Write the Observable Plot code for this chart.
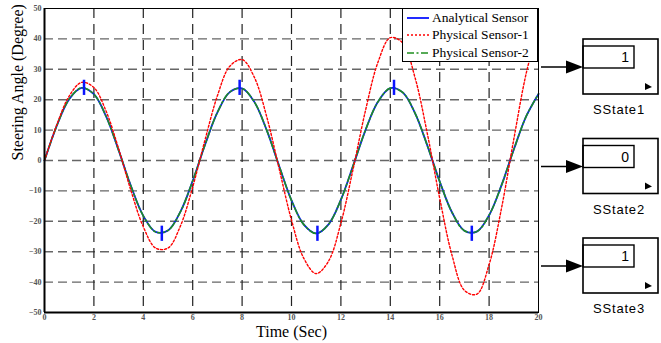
<!DOCTYPE html>
<html>
<head>
<meta charset="utf-8">
<script src="https://cdn.jsdelivr.net/npm/d3@7"></script>
<script src="https://cdn.jsdelivr.net/npm/@observablehq/plot@0.6"></script>
<style>
  html, body { margin: 0; padding: 0; background: #fff; }
  #wrap { position: relative; width: 661px; height: 343px; overflow: hidden; }
  #legend { position: absolute; left: 402px; top: 8px; width: 134px; height: 52px; background: #fff;
            border: 1px solid #000; font-family: "Liberation Serif", serif; font-size: 13.5px; }
  #legend .row { position: absolute; left: 4px; height: 17px; display: flex; align-items: center; }
  #legend .row span { margin-left: 3px; white-space: nowrap; }
  #blocks { position: absolute; left: 0; top: 0; }
</style>
</head>
<body>
<div id="wrap"></div>
<script>
// ---- data ----
const time = [0,0.5,1,1.5,2,2.5,3,3.5,4,4.5,5,5.5,6,6.5,7,7.5,8,8.5,9,9.5,10,10.5,11,11.5,12,12.5,13,13.5,14,14.5,15,15.5,16,16.5,17,17.5,18,18.5,19,19.5,20];
const analytical = [0,11.5,20.2,23.9,21.8,14.4,3.4,-8.4,-18.2,-23.5,-23.0,-16.9,-6.7,5.2,15.8,22.5,23.7,19.2,9.9,-1.8,-13.1,-21.1,-24.0,-21.0,-12.9,-1.6,10.1,19.3,23.8,22.4,15.6,4.9,-6.9,-17.1,-23.1,-23.4,-18.0,-8.2,3.6,14.5,21.9];
const physical1 = [0,11.8,21.2,25.7,24.0,16.1,3.9,-9.9,-21.8,-28.8,-28.8,-21.6,-8.7,6.8,21.3,31.0,33.2,27.3,14.3,-2.7,-19.6,-32.2,-37.2,-33.1,-20.6,-2.6,16.6,32.3,40.4,38.7,27.3,8.8,-12.4,-31.2,-42.7,-44.0,-34.2,-15.8,7.0,28.6,43.8];
const physical2 = [0,11.5,20.2,23.9,21.8,14.4,3.4,-8.4,-18.2,-23.5,-23.0,-16.9,-6.7,5.2,15.8,22.5,23.7,19.2,9.9,-1.8,-13.1,-21.1,-24.0,-21.0,-12.9,-1.6,10.1,19.3,23.8,22.4,15.6,4.9,-6.9,-17.1,-23.1,-23.4,-18.0,-8.2,3.6,14.5,21.9];
const markerTime = [1.6,4.75,7.9,11.05,14.15,17.3];
const markerValue = [24,-24,24,-24,24,-24];
const seriesNames = ["Analytical Sensor","Physical Sensor-1","Physical Sensor-2"];
const xTicks = [0,2,4,6,8,10,12,14,16,18,20];
const yTicks = [-50,-40,-30,-20,-10,0,10,20,30,40,50];
const xGrid = [2,4,6,8,10,12,14,16,18];
const yGrid = [-40,-30,-20,-10,0,10,20,30,40];
const stateNames = ["SState1","SState2","SState3"];
const stateValues = ["1","0","1"];

// ---- build tables ----
const rows = (vals) => time.map((t, i) => ({t, v: vals[i]}));
const sA = rows(analytical), s1 = rows(physical1), s2 = rows(physical2);
const markers = markerTime.map((t, i) => ({t, lo: markerValue[i] - 2.6, hi: markerValue[i] + 2.4}));

const colors = ["#0a14ff", "#ff0000", "#1f8f1f"];
const dashes = [null, "2,2", "7,2.5,2,2.5"];
const widths = [1.8, 1.4, 1.6];

const chart = Plot.plot({
  width: 661, height: 343,
  marginLeft: 44, marginRight: 123, marginTop: 8, marginBottom: 31,
  style: { fontFamily: "Liberation Serif, serif", background: "#fff" },
  x: { domain: [0, 20] },
  y: { domain: [-50, 50] },
  marks: [
    Plot.ruleY(yGrid, { stroke: "#666", strokeWidth: 1.4, strokeDasharray: "9,5" }),
    Plot.ruleX(xGrid, { stroke: "#222", strokeWidth: 1.2, strokeDasharray: "10,6" }),
    Plot.line(sA, { x: "t", y: "v", stroke: colors[0], strokeWidth: widths[0], curve: "catmull-rom" }),
    Plot.line(s2, { x: "t", y: "v", stroke: colors[2], strokeWidth: widths[2], strokeDasharray: dashes[2], curve: "catmull-rom" }),
    Plot.line(s1, { x: "t", y: "v", stroke: colors[1], strokeWidth: widths[1], strokeDasharray: dashes[1], curve: "catmull-rom" }),
    Plot.ruleX(markers, { x: "t", y1: "lo", y2: "hi", stroke: colors[0], strokeWidth: 2.5 }),
    Plot.frame({ stroke: "#000", strokeWidth: 1 }),
    Plot.ruleX([0], { stroke: "#000", strokeWidth: 2 }),
    Plot.ruleY([-50], { stroke: "#000", strokeWidth: 2 }),
    Plot.axisX({ ticks: xTicks, tickSize: 0, tickPadding: 2, fontSize: 8, fill: "#555", fontWeight: "bold", label: null }),
    Plot.axisY({ ticks: yTicks, tickSize: 0, tickPadding: 3, fontSize: 8, fill: "#555", fontWeight: "bold", label: null }),
    Plot.text(["Time (Sec)"], { frameAnchor: "bottom", dy: 24.5, fontSize: 16, fill: "#000" }),
    Plot.text(["Steering Angle (Degree)"], { frameAnchor: "left", dx: -27, rotate: -90, fontSize: 16, fill: "#000" })
  ]
});
const wrap = document.getElementById("wrap");
wrap.appendChild(chart);

// ---- legend ----
const legend = document.createElement("div");
legend.id = "legend";
seriesNames.forEach((name, i) => {
  const row = document.createElement("div");
  row.className = "row";
  row.style.top = (0.5 + i * 17.3) + "px";
  row.innerHTML = `<svg width="22" height="6"><line x1="0" x2="22" y1="3" y2="3" stroke="${colors[i]}" stroke-width="${widths[i]}" ${dashes[i] ? `stroke-dasharray="${dashes[i]}"` : ""}/></svg><span>${name}</span>`;
  legend.appendChild(row);
});
wrap.appendChild(legend);

// ---- side blocks ----
const svg = d3.select(wrap).append("svg").attr("id", "blocks").attr("width", 661).attr("height", 343);
stateNames.forEach((name, i) => {
  const top = 39 + i * 99.5;
  const g = svg.append("g");
  const ay = top + 28;
  g.append("line").attr("x1", 541).attr("x2", 570).attr("y1", ay).attr("y2", ay).attr("stroke", "#000").attr("stroke-width", 1.5);
  g.append("path").attr("d", `M566,${ay-6.5} L583,${ay} L566,${ay+6.5} Z`).attr("fill", "#000");
  g.append("rect").attr("x", 583).attr("y", top).attr("width", 75).attr("height", 55).attr("fill", "none").attr("stroke", "#000").attr("stroke-width", 1.6);
  g.append("rect").attr("x", 583).attr("y", top + 7).attr("width", 51).attr("height", 22).attr("fill", "none").attr("stroke", "#000").attr("stroke-width", 1.4);
  g.append("text").attr("x", 629).attr("y", top + 23).attr("text-anchor", "end")
    .attr("font-family", "Liberation Sans, sans-serif").attr("font-size", 14).text(stateValues[i]);
  g.append("path").attr("d", `M645,${top+44} L652,${top+48} L645,${top+51} Z`).attr("fill", "#000");
  g.append("text").attr("x", 619).attr("y", top + 75).attr("text-anchor", "middle")
    .attr("font-family", "Liberation Sans, sans-serif").attr("font-size", 13).attr("letter-spacing", 0.8).text(name);
});
</script>
</body>
</html>
